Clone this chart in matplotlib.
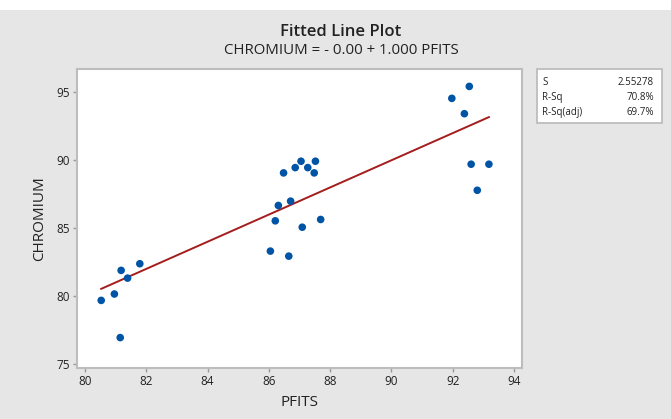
import numpy as np
import matplotlib.pyplot as plt
from matplotlib.patches import Rectangle

# --- Data ---
pfits = [80.53, 80.96, 81.15, 81.18, 81.39, 81.79, 86.05, 86.21, 86.31, 86.48,
         86.65, 86.71, 86.86, 87.05, 87.09, 87.27, 87.48, 87.52, 87.69,
         91.97, 92.38, 92.54, 92.60, 92.80, 93.18]
chromium = [79.68, 80.15, 76.94, 81.89, 81.32, 82.38, 83.31, 85.54, 86.67, 89.07,
            82.94, 86.99, 89.46, 89.93, 85.07, 89.46, 89.07, 89.93, 85.64,
            94.56, 93.43, 95.44, 89.71, 87.79, 89.71]
intercept = 0.0
slope = 1.0
stat_names = ['S', 'R-Sq', 'R-Sq(adj)']
stat_values = ['2.55278', '70.8%', '69.7%']

BG = '#e6e6e6'
COL_PT = '#0054a6'
COL_LINE = '#a51c1c'
COL_FRAME = '#bdbdbd'
COL_TEXT = '#222222'

plt.rcParams['font.family'] = ['Open Sans', 'DejaVu Sans']

fig = plt.figure(figsize=(6.71, 4.19), dpi=100)
fig.patch.set_facecolor(BG)
# white strip along the top edge
fig.patches.append(Rectangle((0, 1 - 10 / 419), 1, 10 / 419, transform=fig.transFigure,
                             facecolor='white', edgecolor='none', zorder=0))

ax = fig.add_axes([0.1152, 0.1217, 0.6623, 0.7129])
ax.set_facecolor('white')

x = np.array(pfits)
xs = np.array([x.min(), x.max()])
ax.plot(xs, intercept + slope * xs, color=COL_LINE, linewidth=1.4, zorder=2)
ax.scatter(pfits, chromium, s=30, color=COL_PT, edgecolors='none', zorder=3)

ax.set_xlim(79.75, 94.25)
ax.set_ylim(74.7, 96.7)
ax.set_xticks([80, 82, 84, 86, 88, 90, 92, 94])
ax.set_yticks([75, 80, 85, 90, 95])
for sp in ax.spines.values():
    sp.set_color(COL_FRAME)
    sp.set_linewidth(1.5)
ax.tick_params(direction='out', length=3, width=1, color='#999999',
               labelsize=8.5, labelcolor=COL_TEXT, pad=2)

ax.set_xlabel('PFITS', fontsize=11, color=COL_TEXT, labelpad=5)
ax.set_ylabel('CHROMIUM', fontsize=11, color=COL_TEXT, labelpad=7)

fig.text(341 / 671, 1 - 32 / 419, 'Fitted Line Plot', fontsize=12, fontweight='semibold',
         ha='center', va='center', color=COL_TEXT)
fig.text(341 / 671, 1 - 51 / 419, 'CHROMIUM = - 0.00 + 1.000 PFITS', fontsize=10.8,
         ha='center', va='center', color=COL_TEXT)

# stats box at the right
bx0, bx1 = 537 / 671, 662 / 671
by1, by0 = 1 - 69.5 / 419, 1 - 123.5 / 419
fig.patches.append(Rectangle((bx0, by0), bx1 - bx0, by1 - by0, transform=fig.transFigure,
                             facecolor='white', edgecolor=COL_FRAME, linewidth=1.3))
for i, (nm, val) in enumerate(zip(stat_names, stat_values)):
    yy = 1 - (82.5 + i * 15) / 419
    fig.text(bx0 + 5 / 671, yy, nm, fontsize=7, ha='left', va='center', color=COL_TEXT)
    fig.text(bx1 - 8 / 671, yy, val, fontsize=7, ha='right', va='center', color=COL_TEXT)

fig.savefig('out.png', dpi=100, facecolor=BG)
